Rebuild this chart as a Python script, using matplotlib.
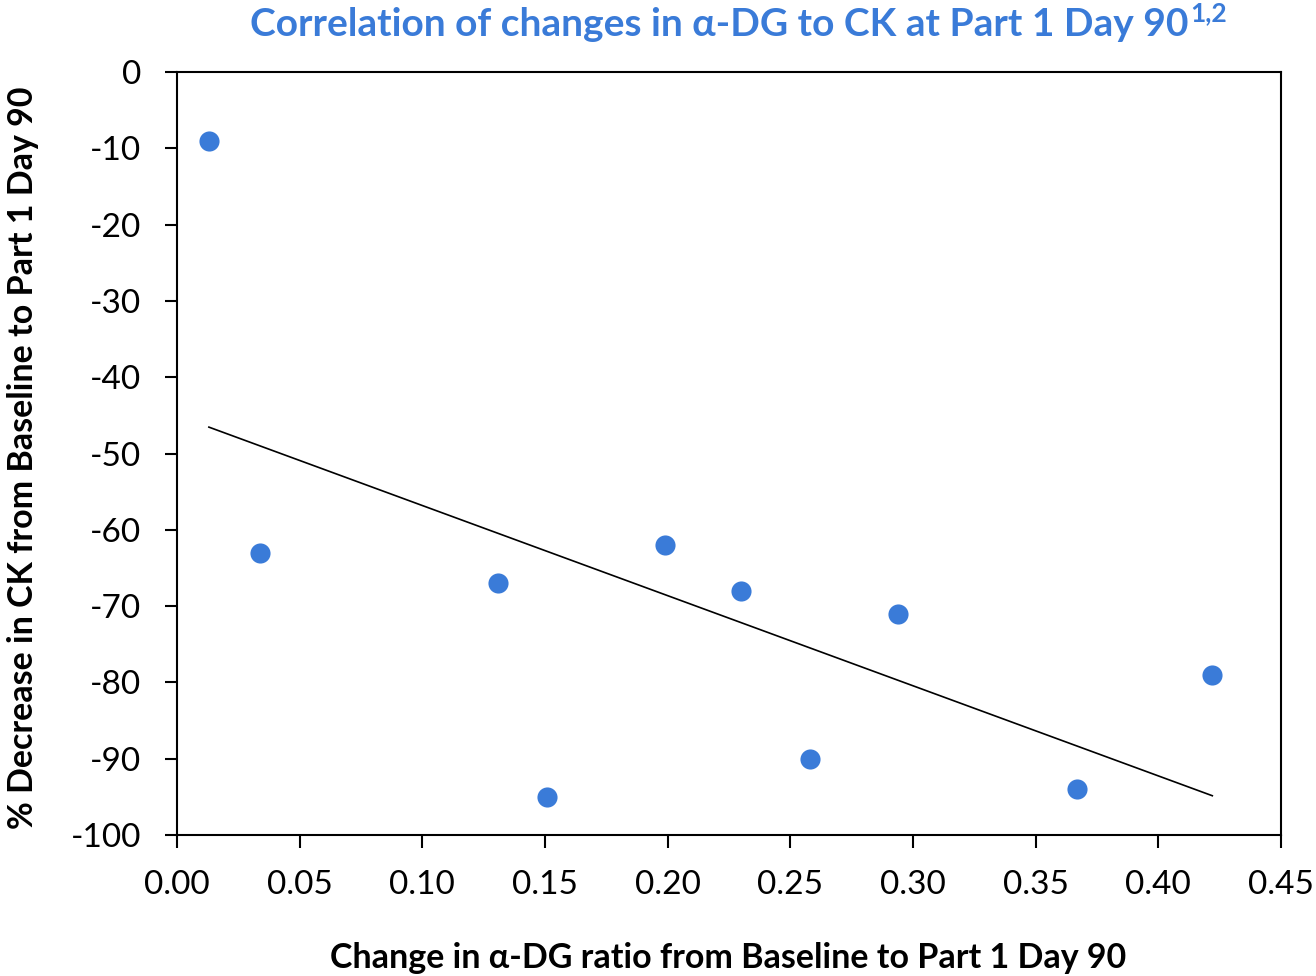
import numpy as np
import matplotlib
matplotlib.use('Agg')
import matplotlib.pyplot as plt

# change in alpha-DG ratio (x) vs % decrease in CK (y)
adg_change = [0.013, 0.034, 0.131, 0.151, 0.199, 0.230, 0.258, 0.294, 0.367, 0.422]
ck_decrease = [-9, -63, -67, -95, -62, -68, -90, -71, -94, -79]

x_ticks = [0.00, 0.05, 0.10, 0.15, 0.20, 0.25, 0.30, 0.35, 0.40, 0.45]
y_ticks = [0, -10, -20, -30, -40, -50, -60, -70, -80, -90, -100]

title = 'Correlation of changes in \u03b1-DG to CK at Part 1 Day 90'
title_sup = '1,2'
x_label = 'Change in \u03b1-DG ratio from Baseline to Part 1 Day 90'
y_label = '% Decrease in CK from Baseline to Part 1 Day 90'

blue = '#3a7bd8'
plt.rcParams['font.family'] = ['Lato', 'DejaVu Sans']

W, H = 1316, 976
fig = plt.figure(figsize=(W / 100, H / 100), dpi=100)
ax = fig.add_axes([177/W, 1 - 835/H, (1281 - 177)/W, (835 - 72)/H])

ax.scatter(adg_change, ck_decrease, s=210, color=blue, zorder=3, linewidths=0)

# linear trend line
slope, intercept = np.polyfit(adg_change, ck_decrease, 1)
xs = np.array([min(adg_change), max(adg_change)])
ax.plot(xs, slope * xs + intercept, color='black', lw=1.2, zorder=2)

ax.set_xlim(0, 0.45)
ax.set_ylim(-100, 0)
ax.set_xticks(x_ticks)
ax.set_xticklabels(['%.2f' % t for t in x_ticks])
ax.set_yticks(y_ticks)
ax.set_yticklabels([str(t) for t in y_ticks])
ax.tick_params(axis='both', direction='out', length=9, width=1.5, labelsize=24)
ax.tick_params(axis='x', pad=16)
ax.tick_params(axis='y', pad=17)
for sp in ax.spines.values():
    sp.set_linewidth(1.5)

fig.text(728/W, 1 - 958/H, x_label, ha='center', va='center',
         fontsize=24.5, fontweight='bold')
fig.text(23/W, 1 - 458/H, y_label, ha='center', va='center', rotation=90,
         fontsize=24.5, fontweight='bold')

# title with superscript placed right after it
t = fig.text(250/W, 1 - 36/H, title, ha='left', va='baseline',
             fontsize=28, fontweight='bold', color=blue)
renderer = fig.canvas.get_renderer()
bb = t.get_window_extent(renderer)
fig.text((bb.x1 + 2)/W, 1 - 21/H, title_sup, ha='left', va='baseline',
         fontsize=19, fontweight='bold', color=blue)

plt.savefig('out.png', dpi=100)
